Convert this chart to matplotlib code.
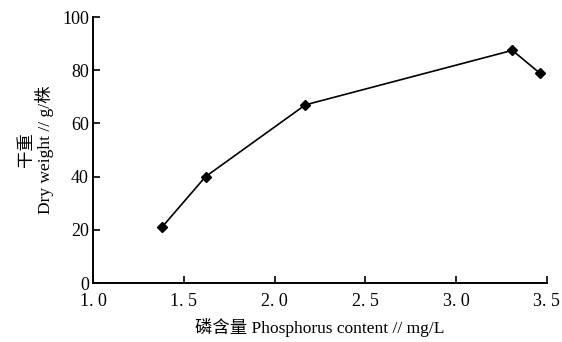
import matplotlib.pyplot as plt

plt.rcParams['font.family'] = ['Liberation Serif', 'Noto Sans CJK SC']

# phosphorus content (mg/L) vs. dry weight (g per plant)
phosphorus = [1.38, 1.62, 2.17, 3.31, 3.46]
dry_weight = [21.0, 40.0, 67.0, 87.5, 79.0]

x_ticks = [1.0, 1.5, 2.0, 2.5, 3.0, 3.5]
x_tick_labels = ['1. 0', '1. 5', '2. 0', '2. 5', '3. 0', '3. 5']
y_ticks = [0, 20, 40, 60, 80, 100]

fig = plt.figure(figsize=(5.62, 3.42), dpi=100)
ax = fig.add_axes([0.1655, 0.1725, 0.8075, 0.7775])

ax.plot(phosphorus, dry_weight, color='black', linewidth=1.2,
        marker='D', markersize=5.5, markerfacecolor='black', markeredgecolor='black')

ax.set_xlim(1.0, 3.5)
ax.set_ylim(0, 100)
ax.set_xticks(x_ticks)
ax.set_xticklabels(x_tick_labels)
ax.set_yticks(y_ticks)

for side in ['top', 'right']:
    ax.spines[side].set_visible(False)
for side in ['left', 'bottom']:
    ax.spines[side].set_linewidth(1.4)

ax.tick_params(direction='in', length=5, width=1.2, labelsize=13)
ax.tick_params(axis='x', pad=7)
ax.tick_params(axis='y', pad=3)

ax.set_xlabel('磷含量 Phosphorus content // mg/L', fontsize=12.5, labelpad=6)
ax.set_ylabel('干重\nDry weight // g/株', fontsize=12.5, labelpad=6, linespacing=1.0)

fig.savefig('out.png', dpi=100)
